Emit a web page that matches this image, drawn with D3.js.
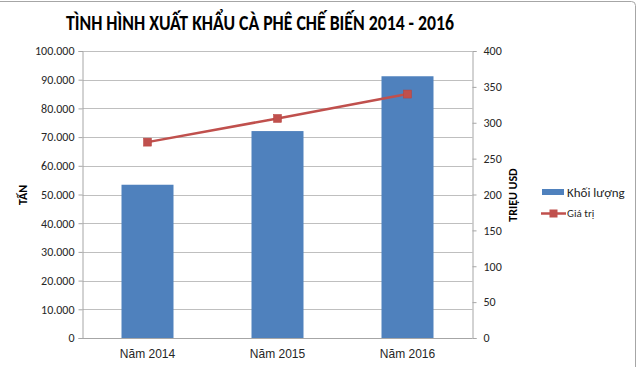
<!DOCTYPE html>
<html><head><meta charset="utf-8">
<script src="https://cdn.jsdelivr.net/npm/d3@7"></script>
<style>body{margin:0;background:#fff}svg{display:block}</style>
</head><body>
<svg id="c" width="640" height="367"></svg>
<script>
const categories = ["Năm 2014", "Năm 2015", "Năm 2016"];
const volume = [53400, 72100, 91200];
const value = [273, 306, 340];
const leftTicks = [0,10000,20000,30000,40000,50000,60000,70000,80000,90000,100000];
const rightTicks = [0,50,100,150,200,250,300,350,400];
const seriesNames = ["Khối lượng", "Giá trị"];
const titleText = "TÌNH HÌNH XUẤT KHẨU CÀ PHÊ CHẾ BIẾN 2014 - 2016";

(function(){
const svg = d3.select("#c");
const pLeft = 82.5, pRight = 472.5, pTop = 51, pBottom = 338;
const fmt = d => d === 0 ? "0" : d3.format(",")(d).replace(/,/g, ".");
const tickFont = "Calibri, Carlito, 'Liberation Sans Narrow', 'Open Sans', sans-serif";

svg.append("rect").attr("x", -10).attr("y", 1.5).attr("width", 645.5).attr("height", 380)
  .attr("rx", 4).attr("fill", "#fff").attr("stroke", "#a6a6a6").attr("stroke-width", 1);

const x = d3.scaleBand().domain(categories).range([pLeft, pRight]).paddingInner(0.6).paddingOuter(0.3);
const yL = d3.scaleLinear().domain([0, 100000]).range([pBottom, pTop]);
const yR = d3.scaleLinear().domain([0, 400]).range([pBottom, pTop]);

svg.append("g").selectAll("line").data(leftTicks.slice(1)).join("line")
  .attr("x1", pLeft).attr("x2", pRight)
  .attr("y1", d => Math.round(yL(d)) + 0.5).attr("y2", d => Math.round(yL(d)) + 0.5)
  .attr("stroke", "#bfbfbf").attr("stroke-width", 1);

svg.append("g").selectAll("rect").data(volume).join("rect")
  .attr("x", (d, i) => x(categories[i])).attr("width", x.bandwidth())
  .attr("y", d => yL(d)).attr("height", d => yL(0) - yL(d))
  .attr("fill", "#4F81BD");

const axL = svg.append("g").attr("transform", `translate(${pLeft},0)`)
  .call(d3.axisLeft(yL).tickValues(leftTicks).tickFormat(fmt).tickSize(4).tickPadding(4));
axL.select(".domain").attr("stroke", "#a6a6a6");
axL.selectAll(".tick line").attr("stroke", "#a6a6a6");
axL.selectAll("text").attr("font-family", tickFont).attr("font-size", 12).attr("fill", "#262626");

const axR = svg.append("g").attr("transform", `translate(${pRight},0)`)
  .call(d3.axisRight(yR).tickValues(rightTicks).tickSize(4).tickPadding(7));
axR.select(".domain").attr("stroke", "#a6a6a6");
axR.selectAll(".tick line").attr("stroke", "#a6a6a6");
axR.selectAll("text").attr("font-family", tickFont).attr("font-size", 12).attr("fill", "#262626");

const axB = svg.append("g").attr("transform", `translate(0,${pBottom})`)
  .call(d3.axisBottom(x).tickSize(0).tickPadding(11));
axB.select(".domain").attr("stroke", "#a6a6a6").attr("d", `M${pLeft},0.5H${pRight}`);
axB.selectAll("text").attr("font-family", "Arial, 'Liberation Sans', sans-serif").attr("font-size", 12).attr("fill", "#262626");

const line = d3.line().x((d, i) => x(categories[i]) + x.bandwidth() / 2).y(d => yR(d));
svg.append("path").datum(value).attr("d", line).attr("fill", "none")
  .attr("stroke", "#C0504D").attr("stroke-width", 2.5);
svg.append("g").selectAll("rect").data(value).join("rect")
  .attr("x", (d, i) => x(categories[i]) + x.bandwidth() / 2 - 4)
  .attr("y", d => yR(d) - 4).attr("width", 8).attr("height", 8)
  .attr("fill", "#C0504D").attr("stroke", "#b8403d").attr("stroke-width", 0.5);

svg.append("text").attr("x", 260).attr("y", 30).attr("text-anchor", "middle")
  .attr("font-family", tickFont).attr("font-weight", "bold").attr("font-size", 22)
  .attr("fill", "#000").attr("textLength", 388).attr("lengthAdjust", "spacingAndGlyphs")
  .text(titleText);

svg.append("text").attr("transform", "translate(27,195) rotate(-90)").attr("text-anchor", "middle")
  .attr("font-family", tickFont).attr("font-weight", "bold").attr("font-size", 12).text("TẤN");
svg.append("text").attr("transform", "translate(517,195) rotate(-90)").attr("text-anchor", "middle")
  .attr("font-family", tickFont).attr("font-weight", "bold").attr("font-size", 12).text("TRIỆU USD");

const lg = svg.append("g");
lg.append("rect").attr("x", 542).attr("y", 189).attr("width", 22).attr("height", 6).attr("fill", "#4F81BD");
lg.append("text").attr("x", 567).attr("y", 197).attr("font-family", tickFont).attr("font-size", 13)
  .attr("fill", "#262626").text(seriesNames[0]);
lg.append("line").attr("x1", 541).attr("x2", 566).attr("y1", 213.5).attr("y2", 213.5)
  .attr("stroke", "#C0504D").attr("stroke-width", 2.5);
lg.append("rect").attr("x", 549.5).attr("y", 209.5).attr("width", 8).attr("height", 8).attr("fill", "#C0504D");
lg.append("text").attr("x", 567).attr("y", 217).attr("font-family", tickFont).attr("font-size", 11)
  .attr("fill", "#262626").text(seriesNames[1]);
})();
</script>
</body></html>
